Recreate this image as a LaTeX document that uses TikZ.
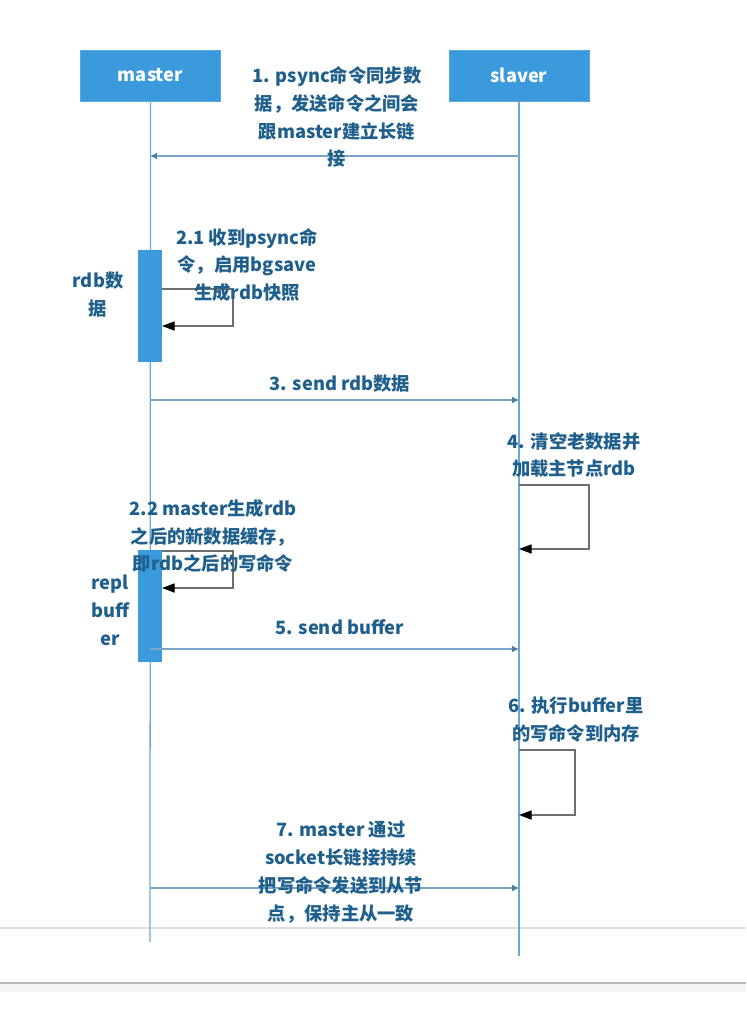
\documentclass[tikz,border=0pt]{standalone}
\usepackage{fontspec}
\setmainfont{Noto Sans CJK SC}
\usetikzlibrary{arrows.meta,positioning}
\definecolor{boxblue}{HTML}{3B9ADB}
\definecolor{notetext}{HTML}{1F5F8C}
\definecolor{lifeblue}{HTML}{6AA8DC}
\definecolor{msgblue}{HTML}{7AA6CA}
\definecolor{loopgray}{HTML}{6E6E6E}
\begin{document}
\begin{tikzpicture}[x=0.025cm,y=-0.025cm,font=\bfseries\fontsize{13}{19.8}\selectfont,
 actor/.style={fill=boxblue,draw=boxblue!85!white,text=white,minimum width=3.5cm,minimum height=1.275cm,inner sep=0pt},
 note/.style={text=notetext,align=center,inner sep=0pt},
 bar/.style={fill=boxblue,minimum width=0.6cm,minimum height=2.8cm,inner sep=0pt},
 life/.style={draw=lifeblue,line width=0.9pt},
 msg/.style={draw=msgblue,line width=1.1pt,-{Latex[length=5pt,width=5pt,color=notetext!80]}},
 selfloop/.style={draw=loopgray,line width=0.9pt,-{Triangle[length=9pt,width=6.5pt,color=black]}}]

\useasboundingbox (0,0) rectangle (746,1030);

% page edges
\draw[gray!25,line width=0.8pt] (0,928) -- (746,928);
\fill[gray!8] (0,983) rectangle (746,992);
\draw[gray!55,line width=0.8pt] (0,983) -- (746,983);

% actors and lifelines
\node[actor] (master) at (150.5,75.5) {master};
\node[actor] (slaver) at (519,75.5) {slaver};
\coordinate (mend) at (150,942);
\coordinate (send) at (519,956);
\draw[life] (master.south) -- (mend);
\draw[life] (slaver.south) -- (send);

% activation bars
\node[bar] (bar1) at (150,306) {};
\node[bar] (bar2) at (150,606) {};

% 1
\coordinate (s1) at (519,156);
\coordinate (m1) at (150,156);
\draw[msg] (s1) -- (m1);
\node[note] (n1) at (337,117) {1. psync命令同步数\\据，发送命令之间会\\跟master建立长链\\接};

% 2.1
\coordinate (l21a) at (162,289);
\coordinate (l21b) at (162,326);
\draw[selfloop] (l21a) -- ++(71,0) |- (l21b);
\node[note] (n21) at (247,265) {2.1 收到psync命\\令，启用bgsave\\生成rdb快照};
\node[note] (rdb) at (98,295) {rdb数\\据};

% 3
\coordinate (m3) at (150,400);
\coordinate (s3) at (519,400);
\draw[msg] (m3) -- (s3);
\node[note] (n3) at (340,384) {3. send rdb数据};

% 4
\coordinate (l4a) at (519,485);
\coordinate (l4b) at (519,549);
\draw[selfloop] (l4a) -- ++(70,0) |- (l4b);
\node[note] (n4) at (574,455) {4. 清空老数据并\\加载主节点rdb};

% 2.2
\coordinate (l22a) at (162,551);
\coordinate (l22b) at (162,588);
\draw[selfloop] (l22a) -- ++(71,0) |- (l22b);
\node[note] (n22) at (213,536) {2.2 master生成rdb\\之后的新数据缓存，\\即rdb之后的写命令};
\node[note] (repl) at (110,610) {repl\\buff\\er};

% 5
\coordinate (m5) at (150,649);
\coordinate (s5) at (519,649);
\draw[msg] (m5) -- (s5);
\node[note] (n5) at (340,627) {5. send buffer};

% 6
\coordinate (l6a) at (519,750);
\coordinate (l6b) at (519,815);
\draw[selfloop] (l6a) -- ++(56,0) |- (l6b);
\node[note] (n6) at (576,720) {6. 执行buffer里\\的写命令到内存};

% 7
\coordinate (m7) at (150,888);
\coordinate (s7) at (519,888);
\draw[msg] (m7) -- (s7);
\node[note] (n7) at (341,872) {7. master 通过\\socket长链接持续\\把写命令发送到从节\\点，保持主从一致};
\end{tikzpicture}
\end{document}
